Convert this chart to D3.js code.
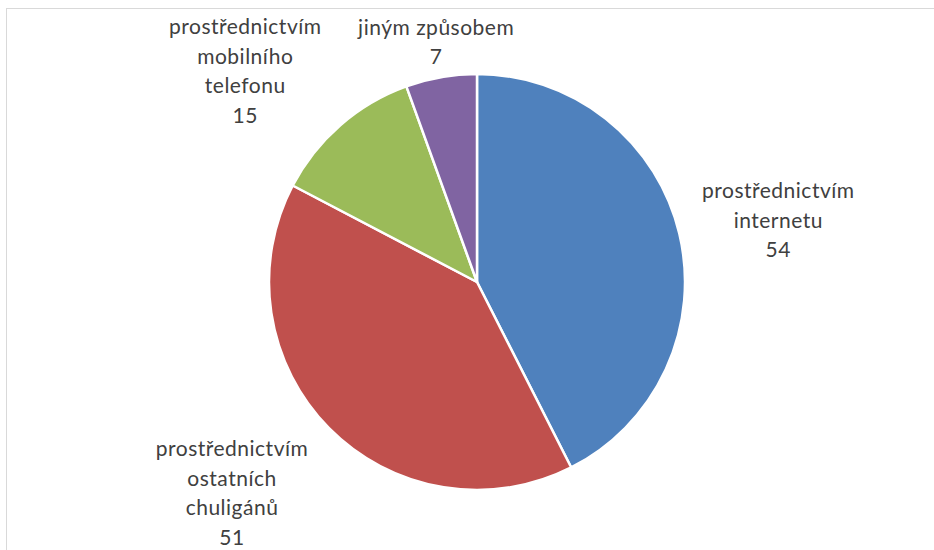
<!DOCTYPE html>
<html><head><meta charset="utf-8">
<script src="https://cdn.jsdelivr.net/npm/d3@7"></script>
<style>html,body{margin:0;padding:0;background:#fff;}svg{display:block;}</style>
</head><body>
<svg id="chart" width="934" height="550"></svg>
<script>
const categories = ["prostřednictvím internetu", "prostřednictvím ostatních chuligánů", "prostřednictvím mobilního telefonu", "jiným způsobem"];
const labelLines = [["prostřednictvím","internetu"],["prostřednictvím","ostatních","chuligánů"],["prostřednictvím","mobilního","telefonu"],["jiným způsobem"]];
const values = [54, 51, 15, 7];
const colors = ["#4F81BD", "#C0504D", "#9BBB59", "#8064A2"];
// label nudges from the slice's edge point (layout only)
const labelNudge = [[99,-13],[-97,65],[-95,-54],[-5,-35]];

const svg = d3.select("#chart");
const cx = 477, cy = 282, R = 208, lineH = 29.5;

svg.append("rect").attr("x",6.5).attr("y",8.5).attr("width",1000).attr("height",1000)
  .attr("fill","#fff").attr("stroke","#d9d9d9").attr("stroke-width",1);

const data = categories.map((c,i)=>({cat:c, value:values[i], lines:labelLines[i], color:colors[i], nudge:labelNudge[i]}));
const pie = d3.pie().value(d=>d.value).sort(null);
const arc = d3.arc().innerRadius(0).outerRadius(R);
const arcs = pie(data);

const g = svg.append("g").attr("transform",`translate(${cx},${cy})`);
g.selectAll("path").data(arcs).join("path")
  .attr("d",arc).attr("fill",d=>d.data.color)
  .attr("stroke","#fff").attr("stroke-width",2.5).attr("stroke-linejoin","round");

const labels = g.selectAll("g.lbl").data(arcs).join("g").attr("class","lbl")
  .attr("transform",d=>{
    const a=(d.startAngle+d.endAngle)/2;
    const x=Math.sin(a)*R + d.data.nudge[0];
    const y=-Math.cos(a)*R + d.data.nudge[1];
    return `translate(${x},${y})`;
  });
labels.each(function(d){
  const lines = d.data.lines.concat([String(d.data.value)]);
  const n = lines.length;
  const t = d3.select(this).append("text")
    .attr("text-anchor","middle").attr("fill","#404040")
    .style("font-family","Lato, 'Open Sans', sans-serif").style("font-size","21px")
    .style("letter-spacing","0.5px");
  lines.forEach((s,i)=>{
    t.append("tspan").attr("x",0).attr("y",(i-(n-1)/2)*lineH).attr("dy","0.35em").text(s);
  });
});
</script>
</body></html>
